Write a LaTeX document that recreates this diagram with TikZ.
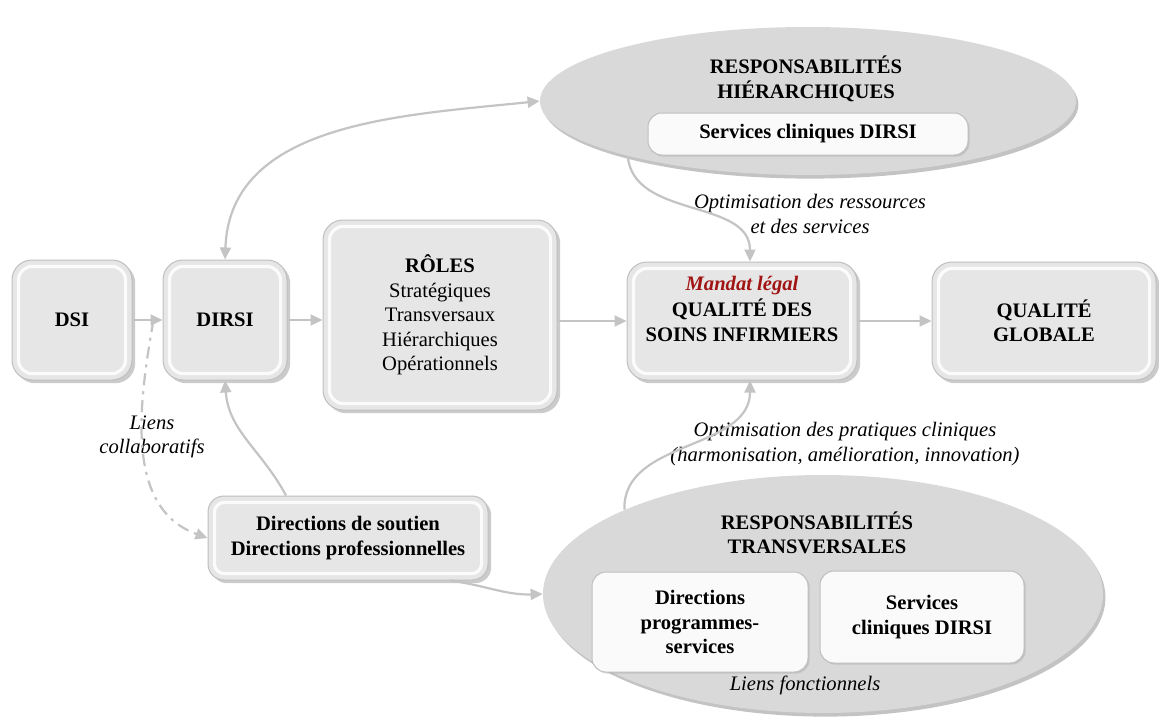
\documentclass[tikz,border=0pt]{standalone}
\usepackage{fontspec}
\setmainfont{Liberation Serif}
\usetikzlibrary{shapes.geometric,shadows,arrows.meta,calc}
\definecolor{boxfill}{RGB}{230,230,230}
\definecolor{ellfill}{RGB}{217,217,217}
\definecolor{linkgray}{RGB}{196,196,196}
\definecolor{mandat}{RGB}{160,20,20}
\newcommand{\diagfont}{\fontsize{10.3}{12.2}\selectfont}

\begin{document}
\begin{tikzpicture}[x=0.5pt,y=-0.5pt,
  txt/.style={font=\diagfont, align=center, inner sep=0pt},
  bevel/.style={path picture={\draw[white, line width=1.6pt, opacity=0.85, rounded corners=#1]
      ([shift={(3.2pt,-3.2pt)}]path picture bounding box.north west) rectangle
      ([shift={(-3.2pt,3.2pt)}]path picture bounding box.south east);}},
  bevelbox/.style={draw=gray!50, line width=0.5pt, fill=boxfill, rounded corners=10pt,
      align=center, font=\diagfont\bfseries, inner sep=2pt,
      drop shadow={shadow xshift=1.6pt, shadow yshift=-1.6pt, opacity=0.5, fill=gray!80},
      bevel=7pt},
  whitebox/.style={draw=gray!50, line width=0.5pt, fill=white!96!gray, rounded corners=7pt,
      align=center, font=\diagfont\bfseries, inner sep=2pt,
      drop shadow={shadow xshift=0.8pt, shadow yshift=-0.8pt, opacity=0.35, fill=gray!80}},
  ell/.style={ellipse, fill=ellfill, inner sep=0pt,
      drop shadow={shadow xshift=1.2pt, shadow yshift=-1.8pt, opacity=0.55, fill=gray!85}},
  conn/.style={draw=linkgray, line width=1.1pt, -{Triangle[length=6pt,width=5.5pt]}},
  both/.style={draw=linkgray, line width=1.1pt, {Triangle[length=6pt,width=5.5pt]}-{Triangle[length=6pt,width=5.5pt]}},
  dashdot/.style={draw=linkgray, line width=1.1pt, dash pattern=on 6pt off 3pt on 1.5pt off 3pt,
      -{Triangle[length=6pt,width=5.5pt]}}
]
\fill[white] (0,0) rectangle (1159,717);
\useasboundingbox (0,0) rectangle (1159,717);

% Responsibility ellipses
\node[ell, minimum width=268pt, minimum height=74pt] (hier) at (808,101) {};
\node[ell, minimum width=280pt, minimum height=119pt] (trans) at (823,594) {};

\node[txt, font=\diagfont\bfseries] (hiert) at (806,79) {RESPONSABILITÉS\\HIÉRARCHIQUES};
\node[whitebox, minimum width=160pt, minimum height=21pt] (hierbox) at (808,134) {Services cliniques DIRSI};

\node[txt, font=\diagfont\bfseries] (transt) at (817,533) {RESPONSABILITÉS\\TRANSVERSALES};
\node[whitebox, minimum width=108pt, minimum height=50pt] (dps) at (700,622) {Directions\\programmes-\\services};
\node[whitebox, minimum width=102pt, minimum height=46pt] (scd) at (922,617) {Services\\cliniques DIRSI};
\node[txt, font=\diagfont\itshape] (lf) at (805,685) {Liens fonctionnels};

% Main chain of boxes
\node[bevelbox, minimum width=60pt, minimum height=60pt] (dsi) at (72,320) {DSI};
\node[bevelbox, minimum width=62pt, minimum height=60pt] (dirsi) at (225,320) {DIRSI};
\node[bevelbox, minimum width=117pt, minimum height=95pt, font=\diagfont] (roles) at (440,315)
  {\textbf{RÔLES}\\Stratégiques\\Transversaux\\Hiérarchiques\\Opérationnels};
\node[bevelbox, minimum width=115pt, minimum height=59pt] (qsi) at (742,321)
  {{\color{mandat}\itshape Mandat légal}\\[1pt]QUALITÉ DES\\SOINS INFIRMIERS\\\mbox{}};
\node[bevelbox, minimum width=112pt, minimum height=59pt] (qg) at (1044,321) {QUALITÉ\\GLOBALE};
\node[bevelbox, rounded corners=8pt, bevel=5pt, minimum width=140pt, minimum height=42pt] (dsp) at (348,538)
  {Directions de soutien\\Directions professionnelles};

% Labels on links
\node[txt, font=\diagfont\itshape] (opt1) at (810,214) {Optimisation des ressources\\et des services};
\node[txt, font=\diagfont\itshape] (opt2) at (845,444) {Optimisation des pratiques cliniques\\(harmonisation, amélioration, innovation)};
\node[txt, font=\diagfont\itshape] (lcol) at (152,437) {Liens\\collaboratifs};

% Connectors
\draw[conn] (dsi.east) -- (dirsi.west);
\draw[conn] (dirsi.east) -- (dirsi.east -| roles.west);
\draw[conn] (qsi.west -| roles.east) -- (qsi.west);
\draw[conn] (qsi.east) -- (qg.west);

\draw[both] (dirsi.north) to[out=88, in=186] (hier.west);
\draw[conn] ([xshift=-31pt]dsp.north) to[out=118, in=-86] (dirsi.south);
\draw[conn] ([xshift=51pt]dsp.south) to[out=-8, in=182] (trans.west);

\draw[conn] (hier.197) to[out=-85, in=90] ([xshift=4pt]qsi.north);
\draw[conn] (trans.157) to[out=92, in=-90] ([xshift=4pt]qsi.south);

\coordinate (lcstart) at ($(dsi.east)!0.7!(dirsi.west)$);
\draw[dashdot] (lcstart) to[out=-100, in=160] (dsp.west);
\end{tikzpicture}
\end{document}
